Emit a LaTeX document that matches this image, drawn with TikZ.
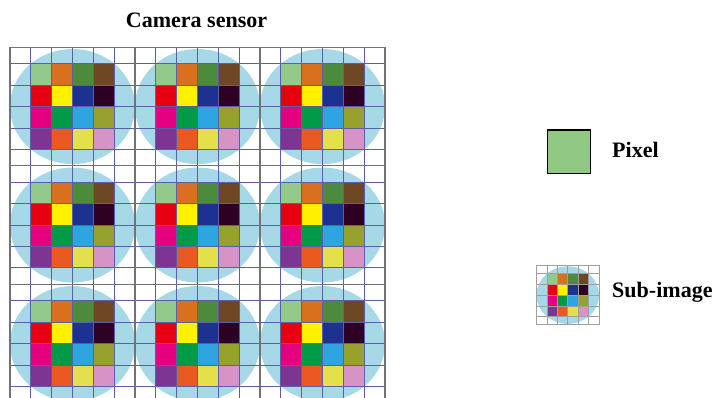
\documentclass[tikz,border=0pt]{standalone}
\usepackage{fontspec}
\setmainfont{Liberation Serif}

% colours of the lens disc and the grid
\definecolor{lensblue}{HTML}{A6D8E7}
\definecolor{gridline}{HTML}{5B5FA3}
\definecolor{legendgreen}{HTML}{91C883}
% colours of the 4x4 pixel block, row by row
\definecolor{pxA}{HTML}{93C98A}
\definecolor{pxB}{HTML}{D9701E}
\definecolor{pxC}{HTML}{4C8A3C}
\definecolor{pxD}{HTML}{6E4724}
\definecolor{pxE}{HTML}{E60012}
\definecolor{pxF}{HTML}{FFF100}
\definecolor{pxG}{HTML}{1D3191}
\definecolor{pxH}{HTML}{2E0021}
\definecolor{pxI}{HTML}{E4007F}
\definecolor{pxJ}{HTML}{009A48}
\definecolor{pxK}{HTML}{2EA5E0}
\definecolor{pxL}{HTML}{97A12E}
\definecolor{pxM}{HTML}{7E3492}
\definecolor{pxN}{HTML}{EA5A20}
\definecolor{pxO}{HTML}{E3E04C}
\definecolor{pxP}{HTML}{D893C6}

\tikzset{
  captext/.style={font=\bfseries\fontsize{18.8}{22}\selectfont, inner sep=0pt},
  thingrid/.style={draw=gridline, line width=0.7pt},
  legendgrid/.style={draw=gray!75, line width=0.45pt},
  sensorframe/.style={draw=black!55, line width=1pt}
}

% one sub-image: 6x6 cells, lens disc and the colour block (local px, origin top left)
\newcommand{\drawsubimage}[1]{%
  \fill[lensblue] (62.5,59.25) ellipse (62.5 and 57.5);
  \foreach \c [count=\n from 0] in {pxA,pxB,pxC,pxD,pxE,pxF,pxG,pxH,pxI,pxJ,pxK,pxL,pxM,pxN,pxO,pxP} {
    \pgfmathsetmacro\cx{20.833*(1+mod(\n,4))}
    \pgfmathsetmacro\cy{16.5+21.4*floor(\n/4)}
    \fill[\c] (\cx,\cy) rectangle ++(20.833,21.4);
  }
  \foreach \k in {0,...,6} \draw[#1] ({20.833*\k},0) -- ++(0,118.5);
  \foreach \y in {0,16.5,37.9,59.3,80.7,102.1,118.5} \draw[#1] (0,\y) -- (125,\y);
}

\begin{document}
\begin{tikzpicture}[x=0.03cm, y=-0.03cm]
  \useasboundingbox (0,0) rectangle (717,398);
  \clip (0,0) rectangle (717,398);

  % Camera sensor: 3x3 sub-images
  \foreach \i in {0,1,2} {
    \foreach \j in {0,1,2} {
      \begin{scope}[shift={({10+125*\i},{47.3+118.5*\j})}]
        \drawsubimage{thingrid}
      \end{scope}
    }
  }
  % borders between sub-images
  \foreach \x in {10,135,260,385} \draw[sensorframe] (\x,47.3) -- (\x,402.8);
  \foreach \y in {47.3,165.8,284.3} \draw[sensorframe] (10,\y) -- (385,\y);

  \node[captext, anchor=base] (title) at (196.5,28) {Camera sensor};

  % Legend
  \draw[fill=legendgreen, line width=1pt] (547.5,130) rectangle (590.5,173.3);
  \node[captext, anchor=base west] (pixeltext) at (612,157.5) {Pixel};

  \begin{scope}[shift={(536.5,265.5)}, scale=0.5]
    \drawsubimage{legendgrid}
  \end{scope}
  \node[captext, anchor=base west] (subtext) at (612,298) {Sub-image};
\end{tikzpicture}
\end{document}
